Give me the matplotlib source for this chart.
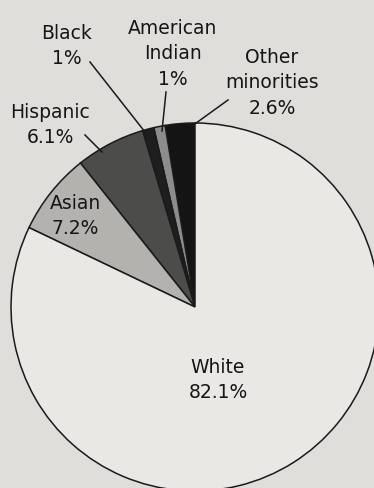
import matplotlib.pyplot as plt

labels = ['Other\nminorities', 'American\nIndian', 'Black', 'Hispanic', 'Asian', 'White']
values = [2.6, 1.0, 1.0, 6.1, 7.2, 82.1]
colors = ['#141414', '#8c8c8a', '#1e1e1e', '#4c4c4b', '#b3b2ae', '#e9e8e4']

W, H = 374, 489
bg = '#dfdedb'

fig = plt.figure(figsize=(W / 100, H / 100), dpi=100, facecolor=bg)
ax = fig.add_axes([0, 0, 1, 1])
ax.set_facecolor(bg)

# work in pixel coords (y flipped)
cx, cy, r = 195, H - 308, 184
ax.pie(values, colors=colors, startangle=90, counterclock=True,
       center=(cx, cy), radius=r, frame=True,
       wedgeprops=dict(edgecolor='#1a1a1a', linewidth=1.1))
ax.set_xlim(0, W)
ax.set_ylim(0, H)
ax.set_aspect('equal')
ax.axis('off')

# label text positions (pixel centers) and leader lines
text_pos = [(272, 83), (173, 54), (67, 46), (50, 125), (75, 216), (218, 380)]
leaders = [((228, 101), (192, 127)),
           ((166, 93), (162, 132)),
           ((90, 63), (145, 133)),
           ((85, 136), (102, 153)),
           None, None]

for lab, v, (px, py), ld in zip(labels, values, text_pos, leaders):
    pct = ('%g' % v) if v == int(v) else ('%.1f' % v)
    ax.text(px, H - py, '%s\n%s%%' % (lab, pct), ha='center', va='center',
            fontsize=13.5, color='#151515', linespacing=1.42,
            family='DejaVu Sans')
    if ld:
        (x0, y0), (x1, y1) = ld
        ax.plot([x0, x1], [H - y0, H - y1], color='#1a1a1a', lw=1.1)

plt.savefig('out.png', dpi=100, facecolor=bg)
